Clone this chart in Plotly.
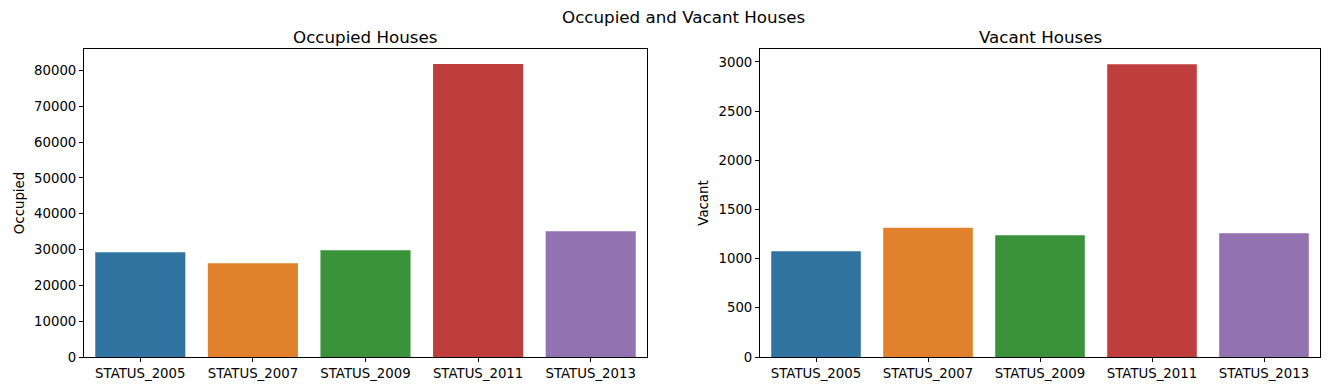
import plotly.graph_objects as go

categories = ["STATUS_2005", "STATUS_2007", "STATUS_2009", "STATUS_2011", "STATUS_2013"]
occupied = [29250, 26200, 29800, 81800, 35100]
vacant = [1075, 1315, 1237, 2976, 1258]
colors = ["#3274a1", "#e1812c", "#3a923a", "#c03d3e", "#9372b2"]

OFF = 8  # page body margin
W, H = 1333 - 2 * OFF, 391 - 2 * OFF


def px(x):
    return (x - OFF) / W


def py(y):
    return (H - (y - OFF)) / H


fig = go.Figure()
fig.add_trace(go.Bar(x=categories, y=occupied, marker=dict(color=colors, line=dict(width=0)),
                     width=0.8, xaxis="x", yaxis="y", showlegend=False))
fig.add_trace(go.Bar(x=categories, y=vacant, marker=dict(color=colors, line=dict(width=0)),
                     width=0.8, xaxis="x2", yaxis="y2", showlegend=False))

TF = 13.3
ax_common = dict(showline=True, linecolor="black", linewidth=1, mirror=True, ticks="outside",
                 ticklen=4, tickcolor="black", showgrid=False, zeroline=False, automargin=False,
                 tickfont=dict(family="DejaVu Sans", size=TF, color="black"))

yb, yt = py(357), py(49)
fig.update_layout(
    width=W, height=H, margin=dict(l=0, r=0, t=0, b=0, pad=0),
    paper_bgcolor="white", plot_bgcolor="white",
    font=dict(family="DejaVu Sans", color="black"),
    xaxis=dict(domain=[px(84), px(647)], anchor="y", range=[-0.5, 4.5], **ax_common),
    yaxis=dict(domain=[yb, yt], anchor="x", range=[0, 86000], dtick=10000, tickformat="d",
               title=dict(text="Occupied", font=dict(size=TF), standoff=6), **ax_common),
    xaxis2=dict(domain=[px(760), px(1320)], anchor="y2", range=[-0.5, 4.5], **ax_common),
    yaxis2=dict(domain=[yb, yt], anchor="x2", range=[0, 3132], dtick=500, tickformat="d",
                title=dict(text="Vacant", font=dict(size=TF), standoff=6), **ax_common),
    annotations=[
        dict(text="Occupied and Vacant Houses", x=px(683), y=py(17), xref="paper", yref="paper",
             showarrow=False, font=dict(size=16.7), xanchor="center", yanchor="middle"),
        dict(text="Occupied Houses", x=px(365), y=py(37), xref="paper", yref="paper",
             showarrow=False, font=dict(size=16.7), xanchor="center", yanchor="middle"),
        dict(text="Vacant Houses", x=px(1040), y=py(37), xref="paper", yref="paper",
             showarrow=False, font=dict(size=16.7), xanchor="center", yanchor="middle"),
    ],
)
fig.write_html("out.html")
